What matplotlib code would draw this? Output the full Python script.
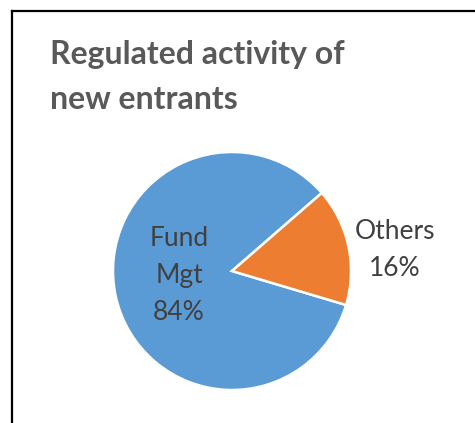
import numpy as np
import matplotlib
matplotlib.use("Agg")
import matplotlib.pyplot as plt
from matplotlib.lines import Line2D

W, H = 475, 423
FS_TITLE = 23
FS_LABEL = 19
matplotlib.rcParams['font.family'] = ['Lato', 'DejaVu Sans']

categories = ["Fund\nMgt", "Others"]
shares = [84, 16]
colors = ["#5B9BD5", "#ED7D31"]
title = "Regulated activity of\nnew entrants"

fig = plt.figure(figsize=(W / 100, H / 100), dpi=100)

# pie centre (232, 271) px, radius 119 px
cx, cy, r = 232 / W, 1 - 271 / H, 119
ax = fig.add_axes([cx - r / W, cy - r / H, 2 * r / W, 2 * r / H])
wedges, _ = ax.pie(shares, colors=colors, startangle=41,
                   wedgeprops=dict(edgecolor="white", linewidth=1.8))
ax.set_xlim(-1, 1)
ax.set_ylim(-1, 1)
ax.set_aspect("auto")

ax.text(-0.445, -0.034, f"{categories[0]}\n{shares[0]}%", ha="center", va="center",
        fontsize=FS_LABEL, color="#404040", linespacing=1.6)
ax.text(1.37, 0.176, f"{categories[1]}\n{shares[1]}%", ha="center", va="center",
        fontsize=FS_LABEL, color="#404040", linespacing=1.6, clip_on=False)

fig.text(50 / W, 1 - 40 / H, title, ha="left", va="top", fontsize=FS_TITLE, weight="bold",
         color="#595959", linespacing=1.65)

# frame: only the left and top edges show
fig.add_artist(Line2D([11.5 / W, 11.5 / W], [0, 1 - 11.5 / H], color="black", lw=1.6))
fig.add_artist(Line2D([11.5 / W, 1], [1 - 11.5 / H, 1 - 11.5 / H], color="black", lw=1.6))

fig.savefig("out.png", dpi=100)
